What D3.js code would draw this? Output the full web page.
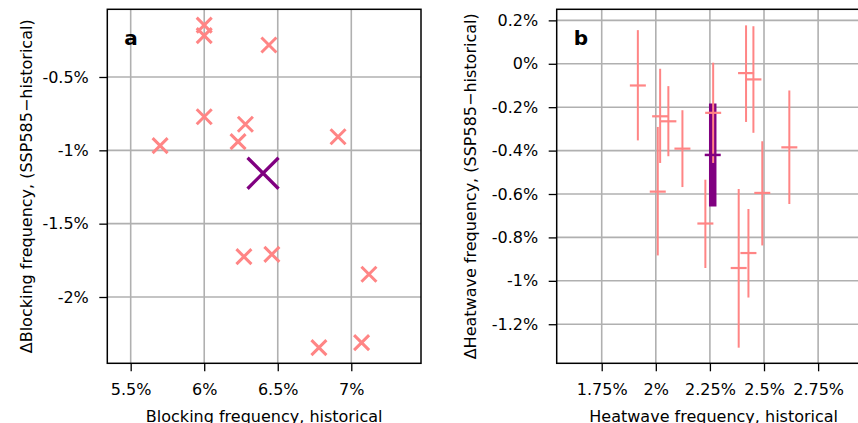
<!DOCTYPE html>
<html>
<head>
<meta charset="utf-8">
<script src="https://cdn.jsdelivr.net/npm/d3@7"></script>
<style>
  body { margin: 0; background: #fff; }
  svg { display: block; font-family: "DejaVu Sans", sans-serif; }
</style>
</head>
<body>
<div id="chart"></div>
<script>
// panel a: blocking, one cross per model
var blockHist   = [6.00, 6.00, 6.44, 6.00, 6.28, 6.23, 5.70, 6.91, 6.27, 6.46, 7.12, 6.78, 7.07];
var blockChange = [-0.146, -0.218, -0.282, -0.771, -0.822, -0.941, -0.968, -0.907, -1.725, -1.709, -1.845, -2.345, -2.311];
var blockMeanHist = 6.40, blockMeanChange = -1.156;

// panel b: heatwave, mean change and range per model
var heatHist   = [1.917, 2.020, 2.058, 2.123, 2.009, 2.265, 2.229, 2.417, 2.451, 2.617, 2.492, 2.383, 2.428];
var heatChange = [-0.100, -0.242, -0.265, -0.391, -0.589, -0.226, -0.736, -0.043, -0.072, -0.385, -0.595, -0.941, -0.872];
var heatLow    = [-0.353, -0.457, -0.426, -0.568, -0.883, -0.457, -0.941, -0.268, -0.318, -0.646, -0.837, -1.308, -1.077];
var heatHigh   = [0.155, -0.023, -0.103, -0.214, -0.291, 0.005, -0.534, 0.177, 0.173, -0.123, -0.357, -0.577, -0.669];
var heatMean = {hist: 2.263, change: -0.420, low: -0.657, high: -0.183};

var blockXTicks = [5.5, 6, 6.5, 7];
var blockYTicks = [-0.5, -1, -1.5, -2];
var heatXTicks = [1.75, 2, 2.25, 2.5, 2.75];
var heatYTicks = [0.2, 0, -0.2, -0.4, -0.6, -0.8, -1, -1.2];

var pink = "#ff8585", purple = "#800080";
var top0 = 9.3, h = 354;
var fs = 16;

var svg = d3.select("#chart")
    .append("svg")
        .attr("width", 858)
        .attr("height", 423);

var pct = function(d) { return (+d.toFixed(2)) + "%"; };

function panel(left, w, xdom, ydom, xt, yt, xlabel, ylabel, ylabelX, letter) {
    var g = svg.append("g").attr("transform", "translate(" + left + "," + top0 + ")");
    var x = d3.scaleLinear().domain(xdom).range([0, w]);
    var y = d3.scaleLinear().domain(ydom).range([h, 0]);

    // grid
    g.append("g").selectAll("line").data(xt).enter().append("line")
        .attr("x1", x).attr("x2", x).attr("y1", 0).attr("y2", h)
        .attr("stroke", "#b0b0b0").attr("stroke-width", 1.6);
    g.append("g").selectAll("line").data(yt).enter().append("line")
        .attr("y1", y).attr("y2", y).attr("x1", 0).attr("x2", w)
        .attr("stroke", "#b0b0b0").attr("stroke-width", 1.6);

    var xa = g.append("g")
        .attr("transform", "translate(0," + h + ")")
        .call(d3.axisBottom(x).tickValues(xt).tickFormat(pct).tickSize(8).tickPadding(12.5));
    var ya = g.append("g")
        .call(d3.axisLeft(y).tickValues(yt).tickFormat(pct).tickSize(8).tickPadding(10.5));
    [xa, ya].forEach(function(a) {
        a.select(".domain").remove();
        a.selectAll("line").attr("stroke", "#000").attr("stroke-width", 1.3);
        a.selectAll("text").attr("font-size", fs).attr("fill", "#000")
            .attr("font-family", "DejaVu Sans");
    });

    g.append("rect")
        .attr("width", w).attr("height", h)
        .attr("fill", "none").attr("stroke", "#000").attr("stroke-width", 1.5);

    g.append("text")
        .attr("x", 17).attr("y", 36)
        .attr("font-size", 20).attr("font-weight", "bold")
        .text(letter);

    svg.append("text")
        .attr("text-anchor", "middle")
        .attr("x", left + w / 2)
        .attr("y", 421.5)
        .attr("font-size", fs)
        .text(xlabel);

    svg.append("text")
        .attr("text-anchor", "middle")
        .attr("transform", "translate(" + ylabelX + "," + (top0 + h / 2) + ") rotate(-90)")
        .attr("font-size", fs)
        .text(ylabel);

    return {g: g, x: x, y: y};
}

// ---- panel a ----
var pa = panel(107.3, 313.7, [5.341, 7.474], [-2.452, -0.0385], blockXTicks, blockYTicks,
    "Blocking frequency, historical", "\u0394Blocking frequency, (SSP585\u2212historical)", 31.5, "a");

function cross(g, cx, cy, r, color, sw) {
    g.append("path")
        .attr("d", "M" + (cx - r) + "," + (cy - r) + "L" + (cx + r) + "," + (cy + r) +
                   "M" + (cx - r) + "," + (cy + r) + "L" + (cx + r) + "," + (cy - r))
        .attr("stroke", color).attr("stroke-width", sw).attr("fill", "none");
}

blockHist.forEach(function(v, i) {
    cross(pa.g, pa.x(v), pa.y(blockChange[i]), 7.5, pink, 3);
});
cross(pa.g, pa.x(blockMeanHist), pa.y(blockMeanChange), 15.5, purple, 3.3);

// ---- panel b ----
var pb = panel(556.7, 314, [1.542, 2.993], [-1.38, 0.251], heatXTicks, heatYTicks,
    "Heatwave frequency, historical", "\u0394Heatwave frequency, (SSP585\u2212historical)", 476, "b");

// thick purple range under the models
pb.g.append("line")
    .attr("x1", pb.x(heatMean.hist)).attr("x2", pb.x(heatMean.hist))
    .attr("y1", pb.y(heatMean.high)).attr("y2", pb.y(heatMean.low))
    .attr("stroke", purple).attr("stroke-width", 7.5);

heatHist.forEach(function(v, i) {
    var cx = pb.x(v);
    pb.g.append("line")
        .attr("x1", cx).attr("x2", cx)
        .attr("y1", pb.y(heatHigh[i])).attr("y2", pb.y(heatLow[i]))
        .attr("stroke", pink).attr("stroke-width", 2);
    pb.g.append("line")
        .attr("x1", cx - 8).attr("x2", cx + 8)
        .attr("y1", pb.y(heatChange[i])).attr("y2", pb.y(heatChange[i]))
        .attr("stroke", pink).attr("stroke-width", 2.2);
});

pb.g.append("line")
    .attr("x1", pb.x(heatMean.hist) - 8).attr("x2", pb.x(heatMean.hist) + 8)
    .attr("y1", pb.y(heatMean.change)).attr("y2", pb.y(heatMean.change))
    .attr("stroke", purple).attr("stroke-width", 2.5);
</script>
</body>
</html>
